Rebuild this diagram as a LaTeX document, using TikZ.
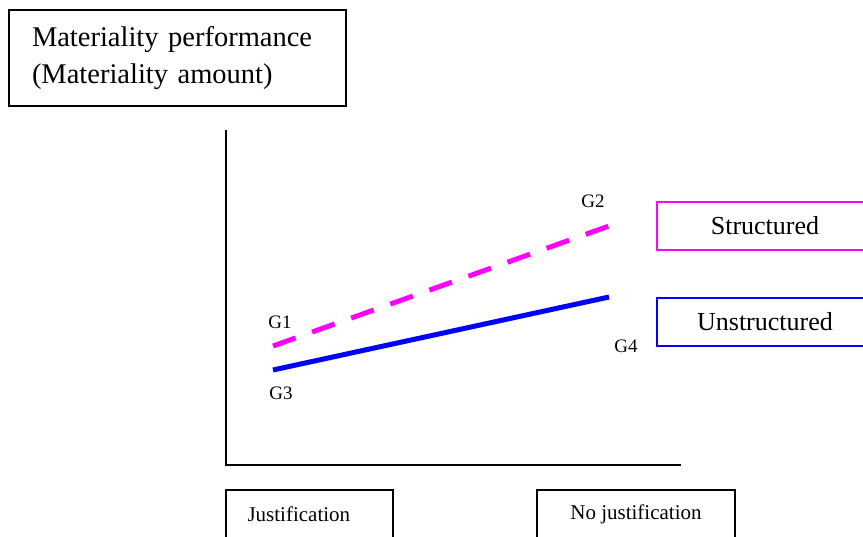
\documentclass[tikz,border=0pt]{standalone}
\usepackage{fontspec}
\setmainfont{Liberation Serif}
\usetikzlibrary{positioning}
\definecolor{structpink}{RGB}{255,0,255}
\definecolor{unstructblue}{RGB}{0,0,255}

\begin{document}
\begin{tikzpicture}[x=1pt,y=-1pt,
                    box/.style={draw,line width=2pt,inner sep=0pt},
                    grp/.style={font=\fontsize{19}{22}\selectfont},
                    serie/.style={line width=5pt}]

  \clip (0,0) rectangle (863,537);

  % title box
  \node[box,minimum width=337,minimum height=96,text width=291,inner xsep=23,
        align=left,font=\fontsize{28.5}{37}\selectfont]
       (title) at (177.5,58) {Materiality performance\\(Materiality amount)};

  % axes
  \coordinate (top)    at (226,130);
  \coordinate (origin) at (226,465);
  \coordinate (right)  at (681,465);
  \draw[line width=2pt] (top) -- (origin) -- (right);

  % end points of the two lines
  \coordinate (g1) at (273,346);
  \coordinate (g2) at (609,226);
  \coordinate (g3) at (273,370);
  \coordinate (g4) at (609,297);

  \draw[serie,structpink,dash pattern=on 24pt off 17.5pt] (g1) -- (g2);
  \draw[serie,unstructblue] (g3) -- (g4);

  \node[grp] (G1) at (280,322) {G1};
  \node[grp] (G2) at (593,201) {G2};
  \node[grp] (G3) at (281,393) {G3};
  \node[grp] (G4) at (626,346) {G4};

  % legend
  \node[box,draw=structpink,minimum width=216,minimum height=48,
        font=\fontsize{26}{30}\selectfont] (struct) at (765,226) {Structured};
  \node[box,draw=unstructblue,minimum width=216,minimum height=48,
        font=\fontsize{26}{30}\selectfont] (unstruct) at (765,322) {Unstructured};

  % groups on the x axis
  \draw[line width=2pt] (226,490) rectangle (393,560);
  \draw[line width=2pt] (537,490) rectangle (735,560);
  \node[font=\fontsize{21}{24}\selectfont,anchor=west] (just) at (244,514) {Justification};
  \node[font=\fontsize{21}{24}\selectfont] (nojust) at (636,514) {No justification};
\end{tikzpicture}
\end{document}
